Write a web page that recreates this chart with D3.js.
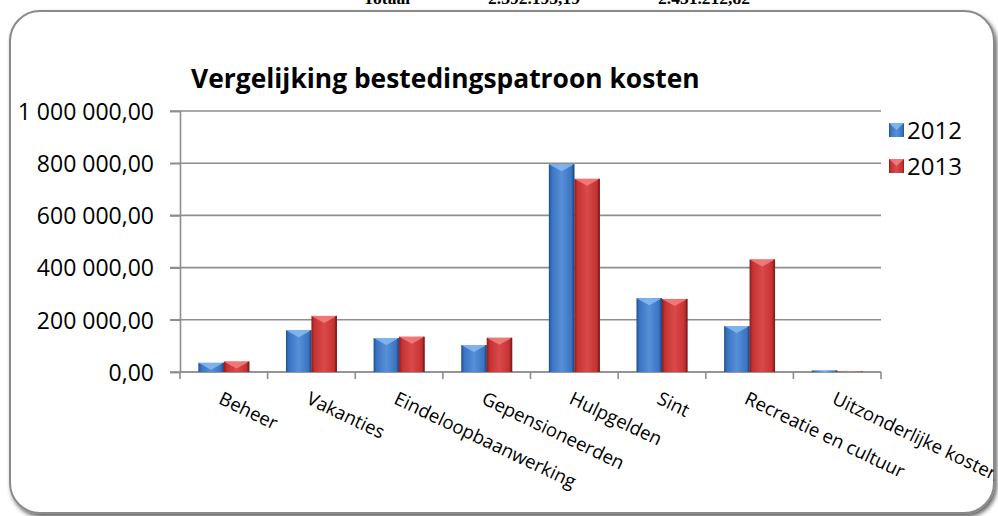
<!DOCTYPE html>
<html>
<head>
<meta charset="utf-8">
<script src="https://cdn.jsdelivr.net/npm/d3@7"></script>
<style>
  body { margin: 0; background: #fff; }
  svg { display: block; }
</style>
</head>
<body>
<svg id="chart"></svg>
<script>
const categories = ["Beheer", "Vakanties", "Eindeloopbaanwerking", "Gepensioneerden",
    "Hulpgelden", "Sint", "Recreatie en cultuur", "Uitzonderlijke kosten"];
const series = ["2012", "2013"];
const values2012 = [35000, 160000, 130000, 103000, 796000, 283000, 176000, 6000];
const values2013 = [40000, 215000, 135000, 131000, 740000, 280000, 431000, 1500];
const yTicks = [0, 200000, 400000, 600000, 800000, 1000000];
const totalLabels = ["Totaal", "2.392.193,19", "2.431.212,82"];

const width = 998, height = 516;
const margin = { top: 111, right: 117, bottom: 144, left: 180 };
const chartWidth = width - margin.left - margin.right;
const chartHeight = height - margin.top - margin.bottom;

const svg = d3.select("#chart").attr("width", width).attr("height", height);
const defs = svg.append("defs");

// drop shadow for the frame
const shadow = defs.append("filter").attr("id", "shadow")
    .attr("x", "-5%").attr("y", "-5%").attr("width", "110%").attr("height", "115%");
shadow.append("feDropShadow").attr("dx", 2).attr("dy", 3).attr("stdDeviation", 2)
    .attr("flood-color", "#000").attr("flood-opacity", 0.6);

defs.append("clipPath").attr("id", "frameClip")
    .append("rect").attr("x", 10).attr("y", 11).attr("width", 984).attr("height", 502).attr("rx", 30);

const palette = {
    "2012": { dark: "#24508f", mid: "#3a74c2", light: "#5790d8", top: "#86baf0" },
    "2013": { dark: "#8a1c1c", mid: "#c53232", light: "#da4a4a", top: "#f48080" }
};
Object.entries(palette).forEach(([k, c]) => {
    const g = defs.append("linearGradient").attr("id", "grad" + k)
        .attr("x1", 0).attr("x2", 1).attr("y1", 0).attr("y2", 0);
    g.append("stop").attr("offset", "0%").attr("stop-color", c.dark);
    g.append("stop").attr("offset", "12%").attr("stop-color", c.mid);
    g.append("stop").attr("offset", "50%").attr("stop-color", c.light);
    g.append("stop").attr("offset", "88%").attr("stop-color", c.mid);
    g.append("stop").attr("offset", "100%").attr("stop-color", c.dark);
});

// cropped table row above the chart
const totalX = [363, 488, 658];
svg.selectAll(".total").data(totalLabels).enter().append("text")
    .attr("x", (d, i) => totalX[i]).attr("y", 4)
    .attr("font-family", "Liberation Serif").attr("font-weight", "bold")
    .attr("font-size", 17.5).attr("fill", "#000")
    .text(d => d);

// frame
svg.append("rect").attr("x", 10).attr("y", 11).attr("width", 984).attr("height", 502).attr("rx", 30)
    .attr("fill", "#fff").attr("stroke", "#8a8a8a").attr("stroke-width", 2)
    .attr("filter", "url(#shadow)");

const root = svg.append("g").attr("clip-path", "url(#frameClip)");

root.append("text").attr("x", 191).attr("y", 88)
    .attr("font-family", "Open Sans").attr("font-weight", "bold").attr("font-size", 26.4)
    .attr("fill", "#000").text("Vergelijking bestedingspatroon kosten");

const x = d3.scaleBand().domain(categories).range([0, chartWidth]).padding(0);
const x1 = d3.scaleBand().domain(series).range([0, x.bandwidth()]).paddingOuter(0.72).paddingInner(0);
const y = d3.scaleLinear().domain([0, 1000000]).range([chartHeight, 0]);

const fmt = d3.formatLocale({ decimal: ",", thousands: "\u00a0", grouping: [3] }).format(",.2f");

const chartGroup = root.append("g").attr("transform", `translate(${margin.left}, ${margin.top})`);

// gridlines
chartGroup.append("g").selectAll("line").data(yTicks).enter().append("line")
    .attr("x1", -10).attr("x2", chartWidth)
    .attr("y1", d => y(d)).attr("y2", d => y(d))
    .attr("stroke", "#8e8e8e").attr("stroke-width", 1.6);

// y axis
const yAxis = chartGroup.append("g")
    .call(d3.axisLeft(y).tickValues(yTicks).tickFormat(fmt).tickSize(10).tickPadding(16));
yAxis.select(".domain").attr("stroke", "#8e8e8e").attr("stroke-width", 1.6);
yAxis.selectAll(".tick line").attr("stroke", "#8e8e8e").attr("stroke-width", 1.6);
yAxis.selectAll(".tick text").attr("font-family", "Open Sans").attr("font-size", 23)
    .attr("fill", "#000").attr("dy", "0.36em");

// x axis ticks at category boundaries
const xAxis = chartGroup.append("g").attr("transform", `translate(0, ${chartHeight})`);
xAxis.selectAll("line").data(d3.range(categories.length + 1)).enter().append("line")
    .attr("x1", i => i * x.step()).attr("x2", i => i * x.step())
    .attr("y1", 0).attr("y2", 7)
    .attr("stroke", "#8e8e8e").attr("stroke-width", 1.6);
xAxis.append("line").attr("x1", 0).attr("x2", chartWidth).attr("y1", 0).attr("y2", 0)
    .attr("stroke", "#8e8e8e").attr("stroke-width", 1.6);

xAxis.selectAll(".xlabel").data(categories).enter().append("text")
    .attr("class", "xlabel")
    .attr("transform", d => `translate(${x(d) + x.bandwidth() / 2 + 1}, 16) rotate(25.5)`)
    .attr("dy", "0.9em")
    .attr("font-family", "Open Sans").attr("font-size", 18.6).attr("fill", "#000")
    .text(d => d);

// bars
const barData = categories.map((c, i) => ({
    category: c,
    values: [{ key: "2012", value: values2012[i] }, { key: "2013", value: values2013[i] }]
}));

const groups = chartGroup.selectAll(".cat").data(barData).enter().append("g")
    .attr("class", "cat")
    .attr("transform", d => `translate(${x(d.category)}, 0)`);

const bars = groups.selectAll(".bar").data(d => d.values).enter().append("g").attr("class", "bar");

bars.append("rect")
    .attr("x", d => x1(d.key))
    .attr("y", d => y(d.value))
    .attr("width", x1.bandwidth())
    .attr("height", d => chartHeight - y(d.value))
    .attr("fill", d => `url(#grad${d.key})`);

bars.append("path")
    .attr("d", d => {
        const bx = x1(d.key), by = y(d.value), w = x1.bandwidth();
        const h = Math.min(7, chartHeight - by);
        return `M${bx},${by}L${bx + w},${by}L${bx + w / 2},${by + h}Z`;
    })
    .attr("fill", d => palette[d.key].top).attr("opacity", 0.85);

bars.append("rect")
    .attr("x", d => x1(d.key) + x1.bandwidth() - 1.5)
    .attr("y", d => y(d.value))
    .attr("width", 1.5)
    .attr("height", d => chartHeight - y(d.value))
    .attr("fill", d => palette[d.key].dark);

// legend
const legend = root.append("g").attr("transform", "translate(889, 123)");
const items = legend.selectAll("g").data(series).enter().append("g")
    .attr("transform", (d, i) => `translate(0, ${i * 36})`);
items.append("rect").attr("width", 15).attr("height", 14)
    .attr("fill", d => `url(#grad${d})`);
items.append("path")
    .attr("d", "M0,0L15,0L7.5,7Z")
    .attr("fill", d => palette[d].top).attr("opacity", 0.85);
items.append("text").attr("x", 18).attr("y", 7).attr("dy", "0.36em")
    .attr("font-family", "Open Sans").attr("font-size", 24).attr("fill", "#000")
    .text(d => d);
</script>
</body>
</html>
